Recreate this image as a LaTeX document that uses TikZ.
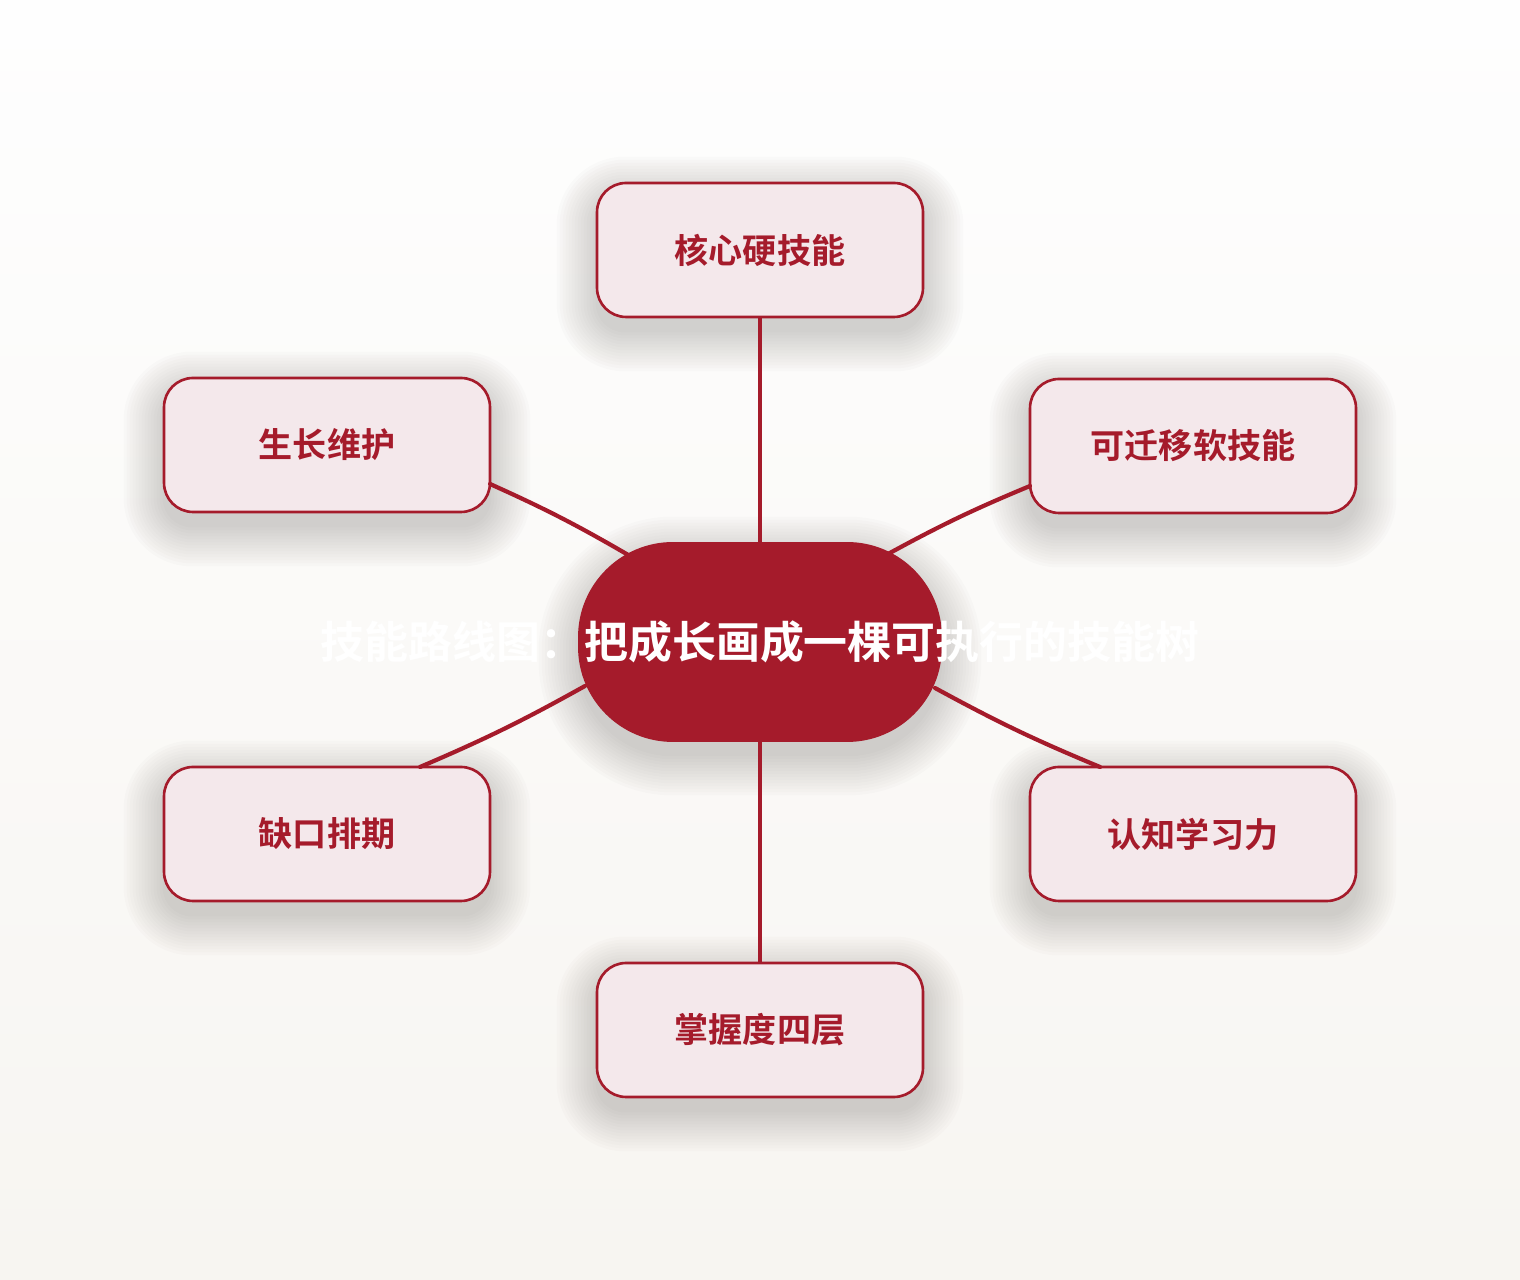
\documentclass[tikz,border=0pt]{standalone}
\usepackage{fontspec}
\usepackage{tikz}
\newfontfamily\cjk{Noto Sans CJK SC}[BoldFont={Noto Sans CJK SC Bold}]
\definecolor{treered}{HTML}{A51B2B}
\definecolor{leafpink}{HTML}{F4E8EB}
\definecolor{bgtop}{HTML}{FEFEFE}
\definecolor{bgbottom}{HTML}{F7F5F1}
\definecolor{shadegray}{HTML}{3A3530}
\pgfdeclarelayer{back}
\pgfdeclarelayer{shade}
\pgfsetlayers{back,shade,main}

\begin{document}
\begin{tikzpicture}[x=0.02cm,y=0.02cm]
		\tikzstyle{RootStyle}=[draw=none,fill=treered,rounded corners=1.9cm,minimum width=7.28cm,minimum height=4cm,inner sep=0pt]
		\tikzstyle{LeafStyle}=[draw=treered,line width=1.5pt,fill=leafpink,rounded corners=0.58cm,minimum width=6.52cm,minimum height=2.68cm,text=treered,font=\cjk\bfseries\fontsize{19.4}{22}\selectfont]
		\tikzstyle{BranchStyle}=[draw=treered,line width=2.4pt,line cap=round]
		% background
		\begin{pgfonlayer}{back}
			\fill[top color=bgtop,bottom color=bgbottom] (0,0) rectangle (1520,1280);
		\end{pgfonlayer}
		% root
		\node[RootStyle,label={[text=white,font=\cjk\bfseries\fontsize{25}{28}\selectfont]center:技能路线图：把成长画成一棵可执行的技能树}] (root) at (760,638) {};
		% leaves
		\node[LeafStyle] (hard) at (760,1030) {核心硬技能};
		\node[LeafStyle] (grow) at (327,835) {生长维护};
		\node[LeafStyle] (soft) at (1193,834) {可迁移软技能};
		\node[LeafStyle] (gap) at (327,446) {缺口排期};
		\node[LeafStyle] (learn) at (1193,446) {认知学习力};
		\node[LeafStyle] (level) at (760,250) {掌握度四层};
		% soft shadows
		\begin{pgfonlayer}{shade}
			\foreach \n/\rad in {hard/0.58,grow/0.58,soft/0.58,gap/0.58,learn/0.58,level/0.58,root/1.9}{
				\foreach \e in {0,3,...,39}{
					\pgfmathsetmacro\rr{\rad+0.02*\e}
					\fill[shadegray,opacity=0.016,rounded corners=\rr cm] ([shift={(-\e,-\e-14)}]\n.south west) rectangle ([shift={(\e,\e-14)}]\n.north east);
				}
			}
		\end{pgfonlayer}
		% branches
		\draw[BranchStyle] (hard.south) -- (root.north);
		\draw[BranchStyle] (root.south) -- (level.north);
		\draw[BranchStyle] ([shift={(163,-39)}]grow.center) to[bend left=3] ([shift={(-130,86)}]root.center);
		\draw[BranchStyle] ([shift={(-163,-40)}]soft.center) to[bend right=3] ([shift={(128,88)}]root.center);
		\draw[BranchStyle] ([shift={(-175,-44)}]root.center) to[bend left=3] ([shift={(93,67)}]gap.center);
		\draw[BranchStyle] ([shift={(175,-46)}]root.center) to[bend right=3] ([shift={(-93,67)}]learn.center);
	\end{tikzpicture}
\end{document}
